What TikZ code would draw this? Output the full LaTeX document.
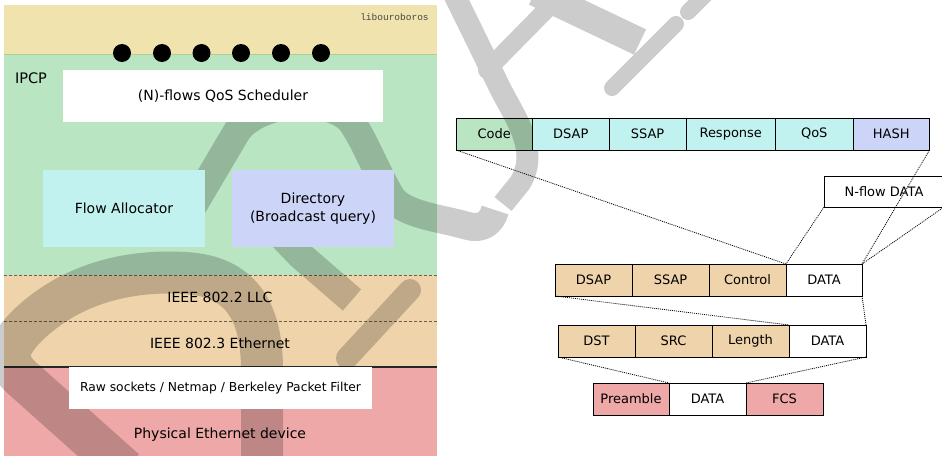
\documentclass[tikz,border=0pt]{standalone}
\usepackage{fontspec}
\setmainfont{DejaVu Sans}
\newfontfamily\monof{Liberation Mono}
\definecolor{topband}{HTML}{F1E3AE}
\definecolor{ipcpgreen}{HTML}{B9E5C3}
\definecolor{llctan}{HTML}{EFD3AA}
\definecolor{phypink}{HTML}{EFA8A8}
\definecolor{facyan}{HTML}{C1F2F0}
\definecolor{dirlav}{HTML}{CCD4F7}
\definecolor{seam}{HTML}{AAD28C}
\definecolor{dashc}{HTML}{6E5E48}
\begin{document}
\begin{tikzpicture}[x=1pt,y=-1pt,
  lbox/.style={inner sep=0pt, outer sep=0pt, align=center, font=\fontsize{14}{18}\selectfont},
  ltext/.style={inner sep=0pt, font=\fontsize{14}{18}\selectfont},
  cell/.style={draw=black, line width=1pt, inner sep=0pt, outer sep=0pt, minimum height=32pt, anchor=west, font=\fontsize{13}{15}\selectfont},
  zoomline/.style={line width=0.8pt, dash pattern=on 1pt off 1pt, black},
  dashline/.style={dashc, line width=0.9pt, dash pattern=on 3pt off 2pt},
  wm/.style={line width=#1, line cap=butt, line join=round},
  wmr/.style={line width=#1, line cap=round, line join=round},
  dotn/.style={circle, fill=black, minimum size=18pt, inner sep=0pt}]
\useasboundingbox (0,0) rectangle (942,455);
% layers of the stack
\fill[topband] (4,5) rectangle (437,54);
\fill[ipcpgreen] (4,54) rectangle (437,275);
\fill[llctan] (4,275) rectangle (437,367);
\fill[phypink] (4,367) rectangle (437,456);
\draw[seam, line width=0.8pt] (4,54) -- (437,54);
\draw[dashline] (4,275) -- (437,275);
\draw[dashline] (4,321) -- (437,321);
\draw[black!85, line width=1.2pt] (4,367) -- (437,367);
% first header cell (seen through the watermark)
\node[cell, fill=ipcpgreen, minimum width=76.5pt] (code) at (456,134) {Code};
% watermark
\begin{scope}[transparency group, opacity=0.2]
  \draw[wm=42pt] (125,470) -- (22,378) .. controls (2,360) and (8,345) .. (28,325)
     .. controls (75,280) and (135,270) .. (185,273)
     .. controls (240,276) and (262,310) .. (262,370) -- (262,470);
  \draw[wm=28pt] (180,228) -- (236,133) .. controls (255,102) and (325,95) .. (350,120)
     .. controls (365,140) and (375,170) .. (392,198)
     .. controls (405,215) and (440,218) .. (468,226)
     .. controls (483,230) and (492,222) .. (495,210);
  \draw[wm=28pt] (262,215) -- (300,255) -- (352,300);
  \draw[wmr=22pt] (347,358) -- (410,290);
  \draw[wm=22pt] (452,-10) -- (500,88) .. controls (515,118) and (540,150) .. (520,183) -- (503,204);
  \draw[wmr=18pt] (487,70) -- (548,8);
  \draw[wm=28pt] (535,-8) -- (640,42);
  \draw[wmr=16pt] (612,88) -- (676,24);
  \draw[wmr=16pt] (688,12) -- (712,-12);
\end{scope}
% left boxes
\node[lbox, fill=white, minimum width=320pt, minimum height=52pt] (qos) at (223,96) {(N)-flows QoS Scheduler};
\node[lbox, fill=facyan, minimum width=162pt, minimum height=77pt] (fa) at (124,208.5) {Flow Allocator};
\node[lbox, fill=dirlav, minimum width=162pt, minimum height=77pt] (dir) at (313,208.5) {Directory\\(Broadcast query)};
\node[lbox, fill=white, minimum width=303pt, minimum height=42pt, font=\fontsize{12.3}{15}\selectfont] (raw) at (220.5,388) {Raw sockets / Netmap / Berkeley Packet Filter};
\node[ltext, font=\fontsize{14.5}{18}\selectfont] (ipcp) at (31,78) {IPCP};
\node[ltext] (llc) at (220,297) {IEEE 802.2 LLC};
\node[ltext] (eth) at (220,343) {IEEE 802.3 Ethernet};
\node[ltext] (phy) at (220,435) {Physical Ethernet device};
\node[inner sep=0pt, text=black!72, font=\monof\fontsize{9.5}{11}\selectfont] (lib) at (394.5,17) {libouroboros};
\foreach \x [count=\i] in {122,162,201.5,241,281,321} \node[dotn] (dot\i) at (\x,53) {};
% header fields
\node[cell, fill=facyan, minimum width=76.5pt] (dsapA) at (code.east) {DSAP};
\node[cell, fill=facyan, minimum width=77pt] (ssapA) at (dsapA.east) {SSAP};
\node[cell, fill=facyan, minimum width=89.5pt] (resp) at (ssapA.east) {Response};
\node[cell, fill=facyan, minimum width=77.5pt] (qosf) at (resp.east) {QoS};
\node[cell, fill=dirlav, minimum width=76.5pt] (hash) at (qosf.east) {HASH};
\node[cell, fill=white, minimum width=120pt, minimum height=31pt] (nflow) at (824,191.5) {N-flow DATA};
% LLC frame
\node[cell, fill=llctan, minimum width=77pt] (ldsap) at (555,280) {DSAP};
\node[cell, fill=llctan, minimum width=77pt] (lssap) at (ldsap.east) {SSAP};
\node[cell, fill=llctan, minimum width=77pt] (lctl) at (lssap.east) {Control};
\node[cell, fill=white, minimum width=76pt] (ldata) at (lctl.east) {DATA};
% Ethernet frame
\node[cell, fill=llctan, minimum width=77pt] (edst) at (558,341) {DST};
\node[cell, fill=llctan, minimum width=77pt] (esrc) at (edst.east) {SRC};
\node[cell, fill=llctan, minimum width=77pt] (elen) at (esrc.east) {Length};
\node[cell, fill=white, minimum width=77pt] (edata) at (elen.east) {DATA};
% physical frame
\node[cell, fill=phypink, minimum width=76pt] (ppre) at (593,399) {Preamble};
\node[cell, fill=white, minimum width=77pt] (pdata) at (ppre.east) {DATA};
\node[cell, fill=phypink, minimum width=77pt] (pfcs) at (pdata.east) {FCS};
% encapsulation lines
\draw[zoomline] (code.south west) -- (ldata.north west);
\draw[zoomline] (hash.south east) -- (ldata.north east);
\draw[zoomline] (nflow.south west) -- (ldata.north west);
\draw[zoomline] (nflow.south east) -- (ldata.north east);
\draw[zoomline] (ldsap.south west) -- (edata.north west);
\draw[zoomline] (ldata.south east) -- (edata.north east);
\draw[zoomline] (edst.south west) -- (pdata.north west);
\draw[zoomline] (edata.south east) -- (pdata.north east);
\end{tikzpicture}
\end{document}
